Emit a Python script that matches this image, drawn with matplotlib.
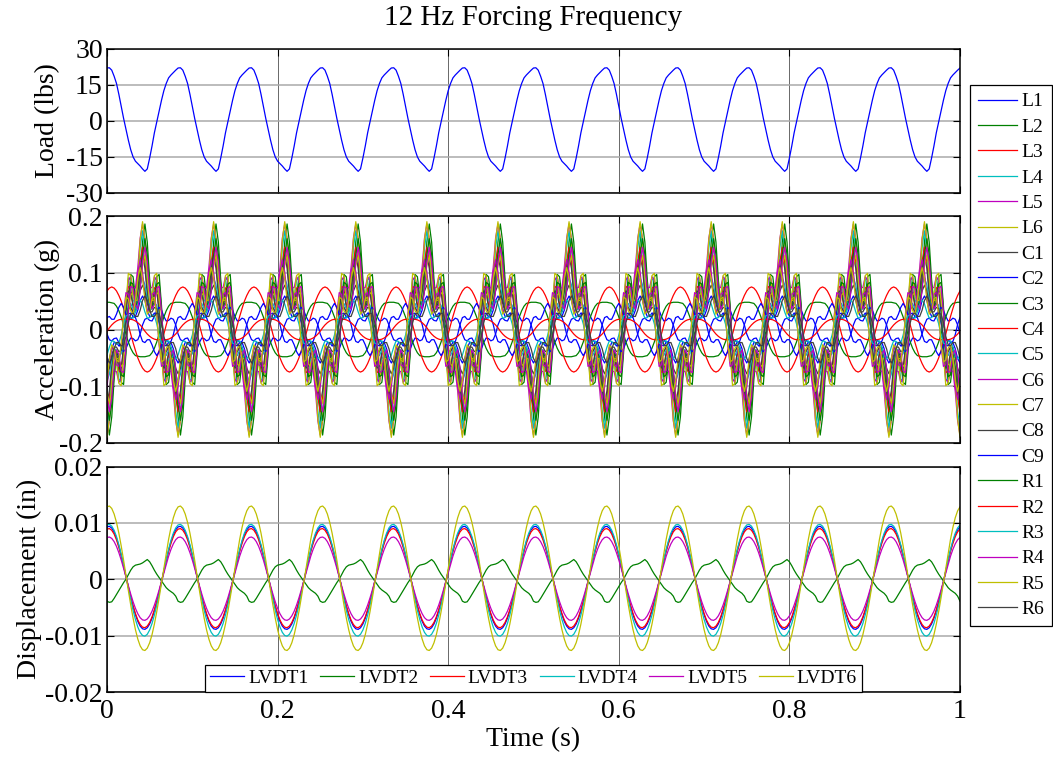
import numpy as np
import matplotlib
matplotlib.use("Agg")
import matplotlib.pyplot as plt

plt.rcParams['font.family'] = ['Liberation Serif', 'DejaVu Serif']

# ---------------- data (one forcing cycle, 30 samples, repeated over 1 s) -------------
FORCING_HZ = 12
SAMPLES_PER_CYCLE = 30
DURATION_S = 1.0

load_cycle = [21.9, 22.0, 21.0, 18.5, 15.5, 11.0, 6.0, 1.0, -3.5, -8.0, -12.0, -15.0,
              -16.8, -17.8, -18.8, -20.0, -21.0, -20.0, -15.5, -10.5, -5.0, -0.5, 4.0,
              8.5, 12.5, 15.5, 17.8, 19.0, 20.0, 21.0]

acc_L1 = [-.059, -.051, -.034, -.023, -.023, -.029, -.027, -.012, .012, .027, .029, .023, .023, .034, .051,
          .059, .051, .034, .023, .023, .029, .027, .012, -.012, -.027, -.029, -.023, -.023, -.034, -.051]
acc_L2 = [-.154, -.186, -.154, -.088, -.046, -.057, -.093, -.097, -.042, .042, .097, .093, .057, .046, .088,
          .154, .186, .154, .088, .046, .057, .093, .097, .042, -.042, -.097, -.093, -.057, -.046, -.088]
acc_L3 = [-.145, -.120, -.069, -.036, -.044, -.073, -.076, -.033, .033, .076, .073, .044, .036, .069, .120,
          .145, .120, .069, .036, .044, .073, .076, .033, -.033, -.076, -.073, -.044, -.036, -.069, -.120]
acc_L4 = [-.174, -.144, -.083, -.043, -.053, -.087, -.091, -.040, .040, .091, .087, .053, .043, .083, .144,
          .174, .144, .083, .043, .053, .087, .091, .040, -.040, -.091, -.087, -.053, -.043, -.083, -.144]
acc_L5 = [-.186, -.161, -.109, -.073, -.074, -.093, -.087, -.036, .036, .087, .093, .074, .073, .109, .161,
          .186, .161, .109, .073, .074, .093, .087, .036, -.036, -.087, -.093, -.074, -.073, -.109, -.161]
acc_L6 = [-.190, -.158, -.090, -.047, -.058, -.095, -.099, -.043, .043, .099, .095, .058, .047, .090, .158,
          .190, .158, .090, .047, .058, .095, .099, .043, -.043, -.099, -.095, -.058, -.047, -.090, -.158]
acc_C1 = [-.131, -.108, -.062, -.032, -.040, -.065, -.068, -.030, .030, .068, .065, .040, .032, .062, .108,
          .131, .108, .062, .032, .040, .065, .068, .030, -.030, -.068, -.065, -.040, -.032, -.062, -.108]
acc_C2 = [-.008, -.018, -.020, -.016, -.015, -.023, -.034, -.039, -.034, -.023, -.015, -.016, -.020, -.018, -.008,
          .008, .018, .020, .016, .015, .023, .034, .039, .034, .023, .015, .016, .020, .018, .008]
acc_C3 = [.048, .048, .047, .046, .041, .033, .022, .008, -.008, -.022, -.033, -.041, -.046, -.047, -.048,
          -.048, -.048, -.047, -.046, -.041, -.033, -.022, -.008, .008, .022, .033, .041, .046, .047, .048]
acc_C4 = [.068, .073, .075, .073, .068, .060, .050, .037, .023, .008, -.008, -.023, -.037, -.050, -.060,
          -.068, -.073, -.075, -.073, -.068, -.060, -.050, -.037, -.023, -.008, .008, .023, .037, .050, .060]
acc_C5 = [-.091, -.079, -.053, -.036, -.036, -.046, -.043, -.018, .018, .043, .046, .036, .036, .053, .079,
          .091, .079, .053, .036, .036, .046, .043, .018, -.018, -.043, -.046, -.036, -.036, -.053, -.079]
acc_C6 = [-.102, -.059, -.031, -.038, -.062, -.065, -.028, .028, .065, .062, .038, .031, .059, .102, .123,
          .102, .059, .031, .038, .062, .065, .028, -.028, -.065, -.062, -.038, -.031, -.059, -.102, -.123]
acc_C7 = [-.113, -.130, -.113, -.076, -.051, -.052, -.065, -.061, -.026, .026, .061, .065, .052, .051, .076,
          .113, .130, .113, .076, .051, .052, .065, .061, .026, -.026, -.061, -.065, -.052, -.051, -.076]
acc_C8 = [-.078, -.068, -.046, -.031, -.031, -.039, -.037, -.015, .015, .037, .039, .031, .031, .046, .068,
          .078, .068, .046, .031, .031, .039, .037, .015, -.015, -.037, -.039, -.031, -.031, -.046, -.068]
acc_C9 = [.021, .023, .018, .018, .027, .039, .046, .039, .027, .018, .018, .023, .021, .009, -.009,
          -.021, -.023, -.018, -.018, -.027, -.039, -.046, -.039, -.027, -.018, -.018, -.023, -.021, -.009, .009]
acc_R1 = [-.132, -.160, -.132, -.076, -.039, -.049, -.080, -.083, -.036, .036, .083, .080, .049, .039, .076,
          .132, .160, .132, .076, .039, .049, .080, .083, .036, -.036, -.083, -.080, -.049, -.039, -.076]
acc_R2 = [-.003, .003, .008, .012, .015, .017, .018, .018, .018, .018, .018, .017, .015, .012, .008,
          .003, -.003, -.008, -.012, -.015, -.017, -.018, -.018, -.018, -.018, -.018, -.017, -.015, -.012, -.008]
acc_R3 = [-.045, -.031, -.020, -.021, -.026, -.024, -.010, .010, .024, .026, .021, .020, .031, .045, .052,
          .045, .031, .020, .021, .026, .024, .010, -.010, -.024, -.026, -.021, -.020, -.031, -.045, -.052]
acc_R4 = [-.120, -.145, -.120, -.069, -.036, -.044, -.073, -.076, -.033, .033, .076, .073, .044, .036, .069,
          .120, .145, .120, .069, .036, .044, .073, .076, .033, -.033, -.076, -.073, -.044, -.036, -.069]
acc_R5 = [-.090, -.052, -.027, -.033, -.054, -.057, -.025, .025, .057, .054, .033, .027, .052, .090, .109,
          .090, .052, .027, .033, .054, .057, .025, -.025, -.057, -.054, -.033, -.027, -.052, -.090, -.109]
acc_R6 = [-.051, -.059, -.051, -.034, -.023, -.023, -.029, -.027, -.012, .012, .027, .029, .023, .023, .034,
          .051, .059, .051, .034, .023, .023, .029, .027, .012, -.012, -.027, -.029, -.023, -.023, -.034]

accel_labels = ['L1', 'L2', 'L3', 'L4', 'L5', 'L6', 'C1', 'C2', 'C3', 'C4', 'C5', 'C6', 'C7',
                'C8', 'C9', 'R1', 'R2', 'R3', 'R4', 'R5', 'R6']

# displacement, thousandths of an inch
lvdt1_mil = [9.29, 9.39, 9.08, 8.38, 7.30, 5.91, 4.27, 2.43, 0.49, -1.39, -3.19, -4.85, -6.29, -7.47, -8.31,
             -8.79, -8.89, -8.60, -7.93, -6.92, -5.60, -4.04, -2.31, -0.46, 1.47, 3.37, 5.12, 6.65, 7.89, 8.78]
lvdt2_mil = [-3.9, -4.1, -4.0, -3.4, -2.7, -2.0, -1.3, -0.6, 0.0, 0.8, 1.6, 2.2, 2.5, 2.6, 2.7,
             2.9, 3.2, 3.5, 3.1, 2.4, 1.6, 0.9, 0.3, -0.3, -0.9, -1.5, -1.9, -2.2, -2.5, -3.0]
lvdt3_mil = [8.89, 8.99, 8.69, 8.02, 6.99, 5.66, 4.09, 2.33, 0.47, -1.34, -3.08, -4.69, -6.08, -7.22, -8.03,
             -8.50, -8.59, -8.31, -7.66, -6.68, -5.41, -3.90, -2.23, -0.45, 1.40, 3.22, 4.91, 6.36, 7.55, 8.41]
lvdt4_mil = [9.63, 9.74, 9.42, 8.69, 7.58, 6.13, 4.43, 2.53, 0.51, -1.58, -3.62, -5.50, -7.14, -8.47, -9.43,
             -9.98, -10.09, -9.76, -9.00, -7.85, -6.35, -4.59, -2.62, -0.53, 1.52, 3.49, 5.31, 6.89, 8.18, 9.11]
lvdt5_mil = [7.41, 7.49, 7.25, 6.68, 5.83, 4.72, 3.41, 1.94, 0.39, -1.14, -2.61, -3.98, -5.16, -6.12, -6.82,
             -7.21, -7.29, -7.05, -6.50, -5.67, -4.59, -3.31, -1.89, -0.38, 1.17, 2.69, 4.09, 5.30, 6.29, 7.01]
lvdt6_mil = [12.84, 12.99, 12.56, 11.58, 10.10, 8.18, 5.90, 3.37, 0.68, -1.97, -4.53, -6.89, -8.94, -10.61, -11.82,
             -12.50, -12.64, -12.22, -11.27, -9.83, -7.96, -5.74, -3.28, -0.66, 2.03, 4.65, 7.09, 9.19, 10.91, 12.14]
lvdt_labels = ['LVDT1', 'LVDT2', 'LVDT3', 'LVDT4', 'LVDT5', 'LVDT6']

x_ticks = [0, 0.2, 0.4, 0.6, 0.8, 1.0]
x_tick_labels = ['0', '0.2', '0.4', '0.6', '0.8', '1']
load_ticks = [-30, -15, 0, 15, 30]
load_tick_labels = ['-30', '-15', '0', '15', '30']
acc_ticks = [-0.2, -0.1, 0, 0.1, 0.2]
acc_tick_labels = ['-0.2', '-0.1', '0', '0.1', '0.2']
disp_ticks = [-0.02, -0.01, 0, 0.01, 0.02]
disp_tick_labels = ['-0.02', '-0.01', '0', '0.01', '0.02']

# ---------------- styling ----------------
matlab_colors = [(0, 0, 1), (0, 0.5, 0), (1, 0, 0), (0, 0.75, 0.75),
                 (0.75, 0, 0.75), (0.75, 0.75, 0), (0.25, 0.25, 0.25)]
FS = 20
LEG_FS = 14

n_pts = int(round(DURATION_S * FORCING_HZ * SAMPLES_PER_CYCLE)) + 1
t = np.arange(n_pts) / (FORCING_HZ * SAMPLES_PER_CYCLE)
n_rep = int(np.ceil(n_pts / SAMPLES_PER_CYCLE))


def series(cycle, scale=1.0):
    return np.tile(np.asarray(cycle, float), n_rep)[:n_pts] * scale


W, H = 1053, 759
fig = plt.figure(figsize=(W / 100, H / 100), dpi=100)


def add_ax(top, bottom):
    return fig.add_axes([107 / W, 1 - bottom / H, 853 / W, (bottom - top) / H])


ax1 = add_ax(48.5, 193)
ax2 = add_ax(216, 443)
ax3 = add_ax(466.5, 692)

LW = 0.9
ax1.plot(t, series(load_cycle), color=matlab_colors[0], lw=LW)

accel_series = [acc_L1, acc_L2, acc_L3, acc_L4, acc_L5, acc_L6, acc_C1, acc_C2, acc_C3, acc_C4,
                acc_C5, acc_C6, acc_C7, acc_C8, acc_C9, acc_R1, acc_R2, acc_R3, acc_R4, acc_R5, acc_R6]
acc_lines = []
for i, (cyc, lab) in enumerate(zip(accel_series, accel_labels)):
    ln, = ax2.plot(t, series(cyc), color=matlab_colors[i % 7], lw=LW, label=lab)
    acc_lines.append(ln)

lvdt_series = [lvdt1_mil, lvdt2_mil, lvdt3_mil, lvdt4_mil, lvdt5_mil, lvdt6_mil]
for i, (cyc, lab) in enumerate(zip(lvdt_series, lvdt_labels)):
    ax3.plot(t, series(cyc, 1e-3), color=matlab_colors[i % 7], lw=LW, label=lab)

for ax, ticks, labels, lim in ((ax1, load_ticks, load_tick_labels, (-30, 30)),
                               (ax2, acc_ticks, acc_tick_labels, (-0.2, 0.2)),
                               (ax3, disp_ticks, disp_tick_labels, (-0.02, 0.02))):
    ax.set_xlim(0, 1)
    ax.set_ylim(*lim)
    ax.set_xticks(x_ticks)
    ax.set_yticks(ticks)
    ax.set_yticklabels(labels)
    ax.set_xticklabels(x_tick_labels)
    ax.tick_params(direction='in', top=True, right=True, length=5, width=0.8,
                   labelsize=FS, pad=3, colors='black')
    ax.tick_params(axis='x', pad=5)
    ax.yaxis.grid(True, color='#a9a9a9', lw=1.1)
    ax.xaxis.grid(True, color='#505050', lw=0.6)
    for s in ax.spines.values():
        s.set_linewidth(1.1)

ax1.tick_params(labelbottom=False)
ax2.tick_params(labelbottom=False)

ax1.set_ylabel('Load (lbs)', fontsize=FS)
ax2.set_ylabel('Acceleration (g)', fontsize=FS)
ax3.set_ylabel('Displacement (in)', fontsize=FS)
ax1.yaxis.set_label_coords((60 - 107) / 853, 0.5)
ax2.yaxis.set_label_coords((60 - 107) / 853, 0.5)
ax3.yaxis.set_label_coords((42 - 107) / 853, 0.5)

fig.text(533 / W, 1 - 18 / H, '12 Hz Forcing Frequency', ha='center', va='center', fontsize=21)
fig.text(533 / W, 1 - 740 / H, 'Time (s)', ha='center', va='center', fontsize=FS)

leg1 = fig.legend(acc_lines, accel_labels, loc='upper left', bbox_to_anchor=(970 / W, 1 - 85 / H),
                  frameon=True, fancybox=False, edgecolor='black', framealpha=1, fontsize=LEG_FS,
                  handlelength=2.0, handletextpad=0.26, labelspacing=0.4, borderpad=0.4,
                  borderaxespad=0)
leg1.get_frame().set_linewidth(0.9)

leg2 = ax3.legend(loc='lower center', bbox_to_anchor=(0.5, 0), ncol=6, frameon=True, fancybox=False,
                  edgecolor='black', framealpha=1, fontsize=LEG_FS, handlelength=1.75, handletextpad=0.2,
                  columnspacing=0.6, borderpad=0.25, borderaxespad=0)
leg2.get_frame().set_linewidth(0.9)

fig.savefig('out.png', dpi=100)
